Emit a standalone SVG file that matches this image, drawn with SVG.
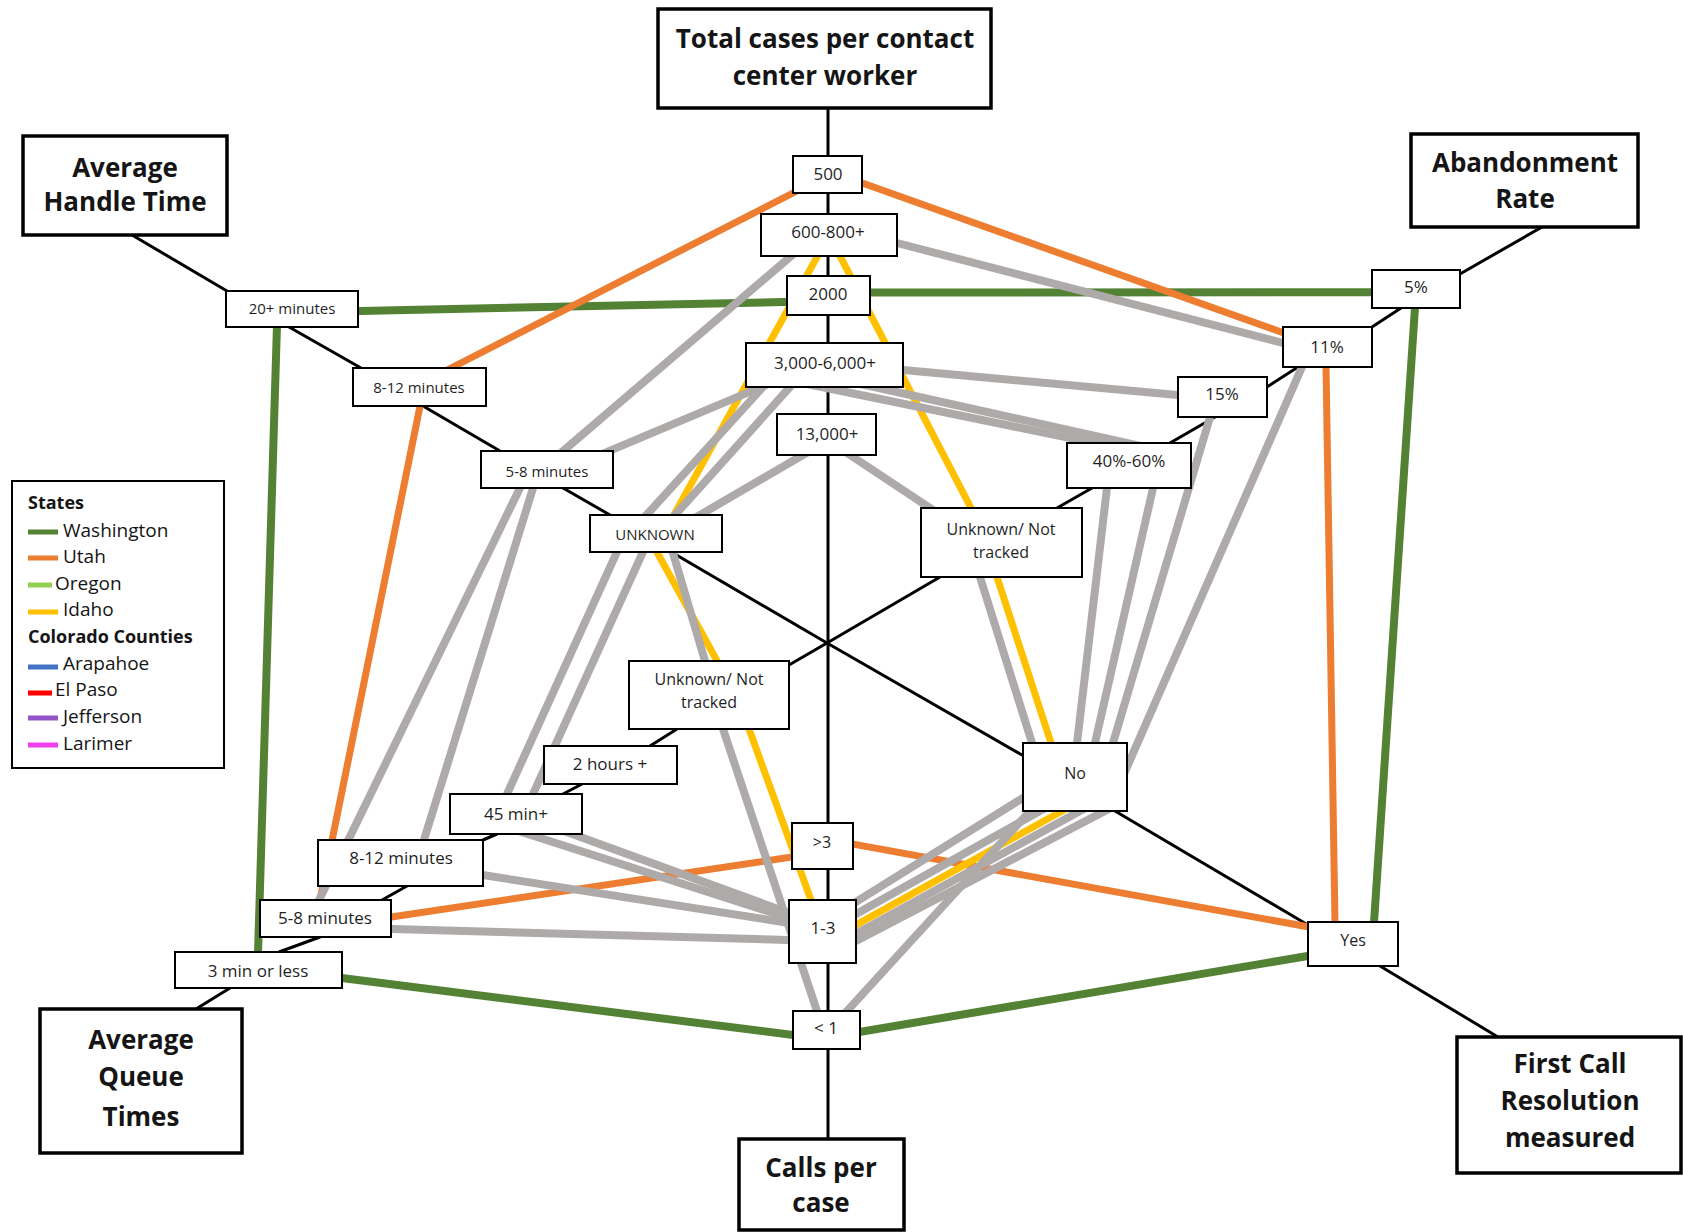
<svg xmlns="http://www.w3.org/2000/svg" width="1683" height="1232" viewBox="0 0 1683 1232">
<style>
  .bg{fill:#ffffff}
  .ax{fill:none;stroke:#000;stroke-width:3;stroke-linejoin:round}
  .c{fill:none;stroke-linecap:round;stroke-linejoin:round}
  .wa{stroke:#548235;stroke-width:8}
  .ut{stroke:#ED7D31;stroke-width:7}
  .id{stroke:#FFC000;stroke-width:7}
  .gr{stroke:#AEAAAA;stroke-width:8}
  .hb{fill:#fff;stroke:#000;stroke-width:3.5}
  .vb{fill:#fff;stroke:#000;stroke-width:2}
  .ht{font-family:"Open Sans","Noto Sans",sans-serif;font-weight:700;font-size:26px;fill:#151515;text-anchor:middle}
  .vt{font-family:"Open Sans","Noto Sans",sans-serif;font-size:17px;fill:#1f1f1f;text-anchor:middle}
  .s15{font-size:15px}
  .s16{font-size:16px}
  .lt{font-family:"Open Sans","Noto Sans",sans-serif;font-size:19px;fill:#151515}
  .lb{font-weight:700;font-size:18px}
</style>
<rect class="bg" x="0" y="0" width="1683" height="1232"/>

<g id="connectors">
  <!-- axes -->
  <line class="ax" x1="828" y1="108" x2="828" y2="1139"/>
  <polyline class="ax" points="132,235 227,291 289,327 361,368 423,406 500,451 563,488 610,515 673,553 827,643 1022,755 1115,811 1308,925 1380,966 1498,1037"/>
  <polyline class="ax" points="1542,227 1460,274 1401,308 1372,327 1298,367 1267,387 1215,417 1170,443 1092,488 1057,508 940,577 827,643 789,665 677,729 650,746 582,784 563,794 497,834 483,840 407,886 382,900 320,937 279,952 230,988 196,1009"/>

  <!-- Washington -->
  <g class="c wa">
    <line x1="349" y1="311.2" x2="795" y2="301.8"/>
    <line x1="862" y1="292.6" x2="1380" y2="292.2"/>
    <line x1="1415.5" y1="300" x2="1373.5" y2="930"/>
    <line x1="1315" y1="954.7" x2="852" y2="1033.3"/>
    <line x1="801" y1="1036" x2="334" y2="977"/>
    <line x1="257.8" y1="960" x2="277.2" y2="318"/>
  </g>
  <!-- Utah -->
  <g class="c ut">
    <line x1="440.3" y1="373.5" x2="807.7" y2="185.5"/>
    <line x1="854.5" y1="180.3" x2="1291.5" y2="335.7"/>
    <line x1="1325.9" y1="359" x2="1335.1" y2="930"/>
    <line x1="845" y1="842.6" x2="1318.8" y2="928.8"/>
    <line x1="800" y1="855.8" x2="383" y2="918.2"/>
    <line x1="421.6" y1="398.2" x2="318.4" y2="907.8"/>
  </g>
  <!-- Idaho -->
  <g class="c id">
    <line x1="820.9" y1="250" x2="670" y2="522"/>
    <line x1="653" y1="545" x2="721" y2="668"/>
    <line x1="746.3" y1="721.5" x2="813.7" y2="907.5"/>
    <line x1="849" y1="928.9" x2="1072.5" y2="805.2"/>
    <line x1="1053.5" y1="750.6" x2="994.5" y2="569.4"/>
    <line x1="974.7" y1="515.1" x2="836.3" y2="248.9"/>
  </g>
  <!-- other entities (grey) -->
  <g class="c gr">
    <line x1="796.8" y1="251.2" x2="556.2" y2="456.9"/>
    <line x1="889.3" y1="241" x2="1290.7" y2="345"/>
    <line x1="773.9" y1="381.6" x2="594.1" y2="457.4"/>
    <line x1="523.5" y1="480.8" x2="315.5" y2="907.2"/>
    <line x1="535.4" y1="480.4" x2="421.6" y2="847.6"/>
    <line x1="895" y1="369.3" x2="1186" y2="395.7"/>
    <line x1="795" y1="381.5" x2="1119" y2="448.1"/>
    <line x1="845" y1="380.5" x2="1151.4" y2="448.3"/>
    <line x1="841.7" y1="449.5" x2="938.3" y2="513.5"/>
    <line x1="811.6" y1="450" x2="691.4" y2="520"/>
    <line x1="768.4" y1="381.1" x2="641" y2="521"/>
    <line x1="795.3" y1="381" x2="669.7" y2="521"/>
    <line x1="620.3" y1="544.7" x2="503.7" y2="801.3"/>
    <line x1="646.3" y1="544.7" x2="529.7" y2="801.3"/>
    <line x1="552.9" y1="827.1" x2="796.5" y2="915.7"/>
    <line x1="511.4" y1="828.8" x2="796.6" y2="920.4"/>
    <line x1="475" y1="873.8" x2="796.9" y2="924.2"/>
    <line x1="383" y1="928.8" x2="797" y2="940.2"/>
    <line x1="670.7" y1="545.3" x2="707.3" y2="668.7"/>
    <line x1="720.5" y1="721.4" x2="819.5" y2="1018.6"/>
    <line x1="849.2" y1="906.2" x2="1028.8" y2="794.3"/>
    <line x1="849" y1="917.9" x2="1050.5" y2="805.1"/>
    <line x1="849" y1="937.8" x2="1090.5" y2="805.2"/>
    <line x1="848.9" y1="944.7" x2="1115.6" y2="805.4"/>
    <line x1="841.6" y1="1016.9" x2="1036.8" y2="803.6"/>
    <line x1="977.6" y1="569.4" x2="1034.4" y2="750.6"/>
    <line x1="1107.9" y1="480.1" x2="1076.1" y2="750.9"/>
    <line x1="1154.8" y1="480.2" x2="1093.2" y2="750.8"/>
    <line x1="1212.3" y1="409.3" x2="1110.7" y2="750.7"/>
    <line x1="1305.2" y1="359.7" x2="1123" y2="776.2"/>
  </g>
</g>

<!-- header nodes -->
<g id="total-cases">
  <rect class="hb" x="658" y="9" width="333" height="99"/>
  <text class="ht" x="825" y="48">Total cases per contact</text>
  <text class="ht" x="825" y="85">center worker</text>
</g>
<g id="average-handle-time">
  <rect class="hb" x="23" y="136" width="204" height="99"/>
  <text class="ht" x="125" y="177">Average</text>
  <text class="ht" x="125" y="211">Handle Time</text>
</g>
<g id="abandonment-rate">
  <rect class="hb" x="1411" y="134" width="227" height="93"/>
  <text class="ht" x="1525" y="172">Abandonment</text>
  <text class="ht" x="1525" y="208">Rate</text>
</g>
<g id="average-queue-times">
  <rect class="hb" x="40" y="1009" width="202" height="144"/>
  <text class="ht" x="141" y="1049">Average</text>
  <text class="ht" x="141" y="1086">Queue</text>
  <text class="ht" x="141" y="1126">Times</text>
</g>
<g id="calls-per-case">
  <rect class="hb" x="739" y="1139" width="165" height="91"/>
  <text class="ht" x="821" y="1177">Calls per</text>
  <text class="ht" x="821" y="1212">case</text>
</g>
<g id="first-call-resolution">
  <rect class="hb" x="1457" y="1037" width="224" height="136"/>
  <text class="ht" x="1570" y="1073">First Call</text>
  <text class="ht" x="1570" y="1110">Resolution</text>
  <text class="ht" x="1570" y="1147">measured</text>
</g>

<!-- value nodes: total cases -->
<g id="tc-500"><rect class="vb" x="793" y="156" width="69" height="37"/><text class="vt" x="828" y="180">500</text></g>
<g id="tc-600-800"><rect class="vb" x="761" y="214" width="136" height="42"/><text class="vt" x="828" y="238">600-800+</text></g>
<g id="tc-2000"><rect class="vb" x="787" y="276" width="83" height="39"/><text class="vt" x="828" y="300">2000</text></g>
<g id="tc-3000-6000"><rect class="vb" x="746" y="343" width="157" height="44"/><text class="vt" x="825" y="369">3,000-6,000+</text></g>
<g id="tc-13000"><rect class="vb" x="777" y="414" width="99" height="41"/><text class="vt" x="827" y="440">13,000+</text></g>

<!-- value nodes: average handle time -->
<g id="aht-20"><rect class="vb" x="226" y="291" width="132" height="36"/><text class="vt s15" x="292" y="314">20+ minutes</text></g>
<g id="aht-8-12"><rect class="vb" x="353" y="368" width="133" height="38"/><text class="vt s15" x="419" y="393">8-12 minutes</text></g>
<g id="aht-5-8"><rect class="vb" x="481" y="451" width="132" height="37"/><text class="vt s15" x="547" y="477">5-8 minutes</text></g>
<g id="aht-unknown"><rect class="vb" x="590" y="515" width="132" height="37"/><text class="vt s15" x="655" y="540">UNKNOWN</text></g>

<!-- value nodes: queue times -->
<g id="q-unknown"><rect class="vb" x="629" y="661" width="160" height="68"/><text class="vt s16" x="709" y="685">Unknown/ Not</text><text class="vt s16" x="709" y="708">tracked</text></g>
<g id="q-2h"><rect class="vb" x="544" y="746" width="133" height="38"/><text class="vt" x="610" y="770">2 hours +</text></g>
<g id="q-45"><rect class="vb" x="450" y="794" width="132" height="40"/><text class="vt" x="516" y="820">45 min+</text></g>
<g id="q-8-12"><rect class="vb" x="318" y="840" width="165" height="46"/><text class="vt" x="401" y="864">8-12 minutes</text></g>
<g id="q-5-8"><rect class="vb" x="260" y="900" width="131" height="37"/><text class="vt" x="325" y="924">5-8 minutes</text></g>
<g id="q-3"><rect class="vb" x="175" y="952" width="167" height="36"/><text class="vt" x="258" y="977">3 min or less</text></g>

<!-- value nodes: calls per case -->
<g id="c-gt3"><rect class="vb" x="792" y="823" width="61" height="46"/><text class="vt s16" x="822" y="848">&gt;3</text></g>
<g id="c-1-3"><rect class="vb" x="789" y="900" width="67" height="63"/><text class="vt" x="823" y="934">1-3</text></g>
<g id="c-lt1"><rect class="vb" x="793" y="1011" width="67" height="38"/><text class="vt" x="826" y="1034">&lt; 1</text></g>

<!-- value nodes: first call resolution -->
<g id="fcr-no"><rect class="vb" x="1023" y="743" width="104" height="68"/><text class="vt s16" x="1075" y="779">No</text></g>
<g id="fcr-yes"><rect class="vb" x="1308" y="922" width="90" height="44"/><text class="vt s16" x="1353" y="946">Yes</text></g>

<!-- value nodes: abandonment rate -->
<g id="ab-unknown"><rect class="vb" x="921" y="508" width="161" height="69"/><text class="vt s16" x="1001" y="535">Unknown/ Not</text><text class="vt s16" x="1001" y="558">tracked</text></g>
<g id="ab-40-60"><rect class="vb" x="1067" y="443" width="124" height="45"/><text class="vt" x="1129" y="467">40%-60%</text></g>
<g id="ab-15"><rect class="vb" x="1178" y="377" width="89" height="40"/><text class="vt" x="1222" y="400">15%</text></g>
<g id="ab-11"><rect class="vb" x="1283" y="327" width="89" height="40"/><text class="vt" x="1327" y="353">11%</text></g>
<g id="ab-5"><rect class="vb" x="1372" y="270" width="88" height="38"/><text class="vt" x="1416" y="293">5%</text></g>

<!-- legend -->
<g id="legend">
  <rect x="12" y="481" width="212" height="287" fill="#fff" stroke="#000" stroke-width="2"/>
  <text class="lt lb" x="28" y="509">States</text>
  <rect x="28" y="529.5" width="30" height="5" fill="#548235"/>
  <text class="lt" x="63" y="537">Washington</text>
  <rect x="28" y="555.5" width="30" height="5" fill="#ED7D31"/>
  <text class="lt" x="63" y="563">Utah</text>
  <rect x="28" y="582.5" width="24" height="5" fill="#92D050"/>
  <text class="lt" x="55" y="590">Oregon</text>
  <rect x="28" y="609.5" width="30" height="5" fill="#FFC000"/>
  <text class="lt" x="63" y="616">Idaho</text>
  <text class="lt lb" x="28" y="643">Colorado Counties</text>
  <rect x="28" y="664.5" width="30" height="5" fill="#4472C4"/>
  <text class="lt" x="63" y="670">Arapahoe</text>
  <rect x="28" y="690.5" width="24" height="5" fill="#FF0000"/>
  <text class="lt" x="55" y="696">El Paso</text>
  <rect x="28" y="715.5" width="30" height="5" fill="#9254C8"/>
  <text class="lt" x="63" y="723">Jefferson</text>
  <rect x="28" y="742.5" width="30" height="5" fill="#EE3EEE"/>
  <text class="lt" x="63" y="750">Larimer</text>
</g>
</svg>
